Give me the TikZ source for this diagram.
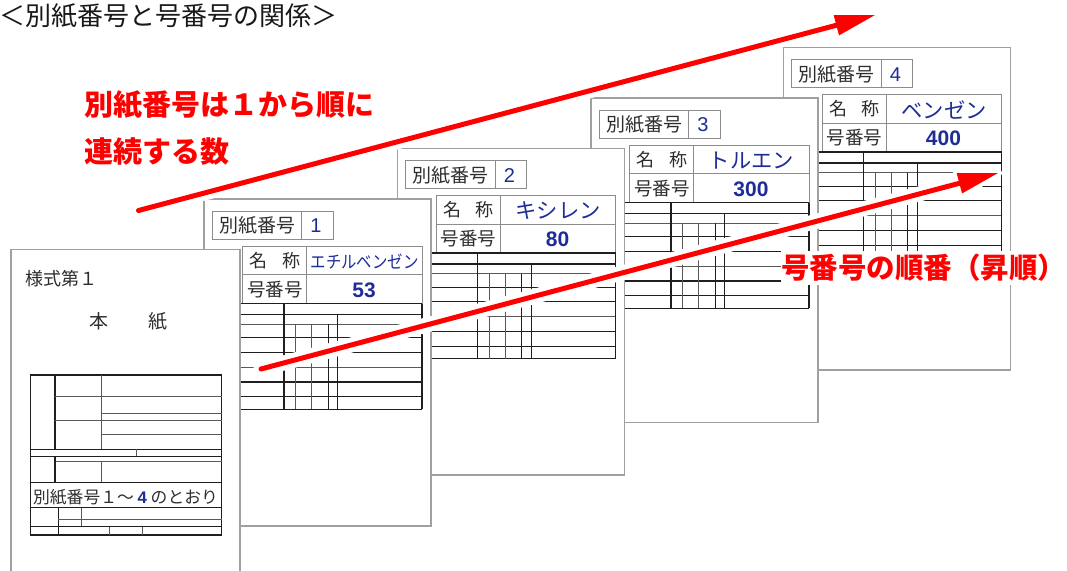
\documentclass[tikz,border=0pt]{standalone}
\usepackage{fontspec}
\setmainfont{Noto Sans CJK JP}
\newfontfamily\numfont{Liberation Sans}
\usetikzlibrary{calc}
\definecolor{sheetgray}{RGB}{160,160,160}
\definecolor{boxgray}{RGB}{140,140,140}
\definecolor{ink}{RGB}{45,45,45}
\definecolor{nblue}{RGB}{30,45,150}
\definecolor{ared}{RGB}{255,0,0}
\newcommand\fs[1]{\fontsize{#1}{#1}\selectfont}
\tikzset{
  sheetline/.style={draw=sheetgray, line width=1.2pt},
  boxline/.style={draw=boxgray, line width=0.9pt},
  tk/.style={draw=black!88, line width=1.1pt},
  tn/.style={draw=black!65, line width=0.7pt},
  lbl/.style={inner sep=0pt, text=ink},
  redtxt/.style={inner sep=0pt, text=ared, font=\bfseries\fs{29}},
  halo/.style={draw=white, line width=15pt, line cap=round},
  redline/.style={draw=ared, line width=5pt, line cap=round}
}
\newcommand\drawsheet[7]{%
\begin{scope}[shift={(#1,#2)}]
  \fill[white] (0,0) rectangle (227,#3);
  \draw[sheetline] (0,0) rectangle (227,#3);
  \draw[boxline] (8,12) rectangle (129,40) (97.5,12) -- (97.5,40);
  \node[lbl,font=\fs{19}] (#4k) at (53,26.5) {別紙番号};
  \node[lbl,text=nblue,font=\numfont\fs{20}] (#4n) at (112,27) {#5};
  \draw[boxline] (38.5,47) rectangle (218,104) (102.5,47) -- (102.5,104) (38.5,75.5) -- (218,75.5);
  \node[lbl,font=\fs{18}] (#4m) at (71,61.5) {名\hspace{0.8em}称};
  \node[lbl,font=\fs{18.5}] (#4g) at (71,90.5) {号番号};
  \node[lbl,text=nblue] (#4v) at (160.5,62.5) {#6};
  \node[lbl,text=nblue,font=\numfont\bfseries\fs{21}] (#4w) at (160,91) {#7};
  \draw[tk, line width=1.4pt] (30,104.5) -- (218,104.5);
  \foreach \yy in {115.5,138.8,153.2,183,197.6,210.4} \draw[tk] (30,\yy) -- (218,\yy);
  \foreach \yy in {125,168.2} \draw[tn] (30,\yy) -- (218,\yy);
  \draw[tk] (80,104.5) -- (80,210.4);
  \draw[tk] (133.7,115.5) -- (133.7,210.4);
  \draw[tn] (91.5,125) -- (91.5,210.4) (107.5,125) -- (107.5,210.4);
  \draw[tk] (124.2,125) -- (124.2,210.4);
  \draw[tk] (218,104.5) -- (218,210.4);
\end{scope}}
\begin{document}
\begin{tikzpicture}[x=1pt,y=-1pt]
\useasboundingbox (0,0) rectangle (1067,570);
\clip (0,0) rectangle (1067,570);
\fill[white] (0,0) rectangle (1067,570);
% sheets, back to front
\drawsheet{783.5}{47.5}{322.5}{sd}{4}{\fs{21.3}ベンゼン}{400}
\drawsheet{591}{98}{324.5}{sc}{3}{\fs{21.3}トルエン}{300}
\drawsheet{397.5}{148.5}{326.5}{sb}{2}{\fs{21.3}キシレン}{80}
\drawsheet{204}{199}{327}{sa}{1}{\scalebox{0.88}[1]{\fs{17.5}エチルベンゼン}}{53}
% main sheet
\begin{scope}[shift={(11,249.5)}]
  \fill[white] (0,0) rectangle (229,330);
  \draw[sheetline] (0,0) rectangle (229,330);
  \node[lbl,anchor=west,font=\fs{18}] (s0a) at (14,28.8) {様式第１};
  \node[lbl,font=\fs{19}] (s0b) at (88,72.2) {本};
  \node[lbl,font=\fs{19}] (s0c) at (147,72.2) {紙};
  \draw[tk] (19.7,125.5) rectangle (210.7,285.5);
  \draw[tk] (44,125.5) -- (44,199.8);
  \draw[tn] (90.7,125.5) -- (90.7,199.8);
  \draw[tn] (44,147.2) -- (210.7,147.2) (90.7,163.8) -- (210.7,163.8)
            (44,170.5) -- (210.7,170.5) (90.7,184.8) -- (210.7,184.8);
  \draw[tk] (19.7,199.8) -- (210.7,199.8);
  \draw[tn] (125,199.8) -- (125,207.2);
  \draw[tk] (19.7,207.2) -- (210.7,207.2);
  \draw[tn] (44,212.2) -- (210.7,212.2);
  \draw[tk] (44,207.2) -- (44,233.2);
  \draw[tn] (90.7,212.2) -- (90.7,233.2);
  \draw[tk] (19.7,233.2) -- (210.7,233.2);
  \node[lbl,font=\fs{16.8}] (s0d) at (114.5,247.8) {別紙番号１～\makebox[1em]{\textcolor{nblue}{\numfont\bfseries 4}}のとおり};
  \draw[tk] (19.7,258.2) -- (210.7,258.2);
  \draw[tk] (47.3,258.2) -- (47.3,285.5);
  \draw[tn] (70.7,258.2) -- (70.7,277.2);
  \draw[tn] (47.3,269.8) -- (210.7,269.8);
  \draw[tk] (19.7,277.2) -- (210.7,277.2);
  \draw[tn] (98.3,277.2) -- (98.3,285.5) (131.7,277.2) -- (131.7,285.5);
\end{scope}
% arrows
\coordinate (ua) at (138.5,210.5);
\coordinate (ut) at (875,15);
\coordinate (ub) at ($(ut)!40pt!(ua)$);
\coordinate (uc) at ($(ub)!10.5pt!90:(ut)$);
\coordinate (ud) at ($(ub)!10.5pt!-90:(ut)$);
\coordinate (la) at (261,369);
\coordinate (lt) at (998,173);
\coordinate (lb) at ($(lt)!40pt!(la)$);
\coordinate (lc) at ($(lb)!10.5pt!90:(lt)$);
\coordinate (ld) at ($(lb)!10.5pt!-90:(lt)$);
\draw[halo] (ua) -- (ub);
\filldraw[white, line width=8pt, line join=round] (ut) -- (uc) -- (ud) -- cycle;
\draw[halo] (la) -- (lb);
\filldraw[white, line width=8pt, line join=round] (lt) -- (lc) -- (ld) -- cycle;
\draw[redline] (ua) -- ($(ub)!1pt!(ut)$);
\fill[ared] (ut) -- (uc) -- (ud) -- cycle;
\draw[redline] (la) -- ($(lb)!1pt!(lt)$);
\fill[ared] (lt) -- (lc) -- (ld) -- cycle;
% texts
\node[lbl,anchor=west,font=\fs{26},text=black!90] (title) at (-1,16) {＜別紙番号と号番号の関係＞};
\node[redtxt,anchor=west] (r1) at (84,105) {別紙番号は１から順に};
\node[redtxt,anchor=west] (r2) at (84,152) {連続する数};
\node[redtxt,anchor=east,fill=white,inner xsep=0pt,inner ysep=3pt,font=\bfseries\fs{28.5}] (r3) at (1066.5,268) {号番号の順番（昇順）};
\end{tikzpicture}
\end{document}
